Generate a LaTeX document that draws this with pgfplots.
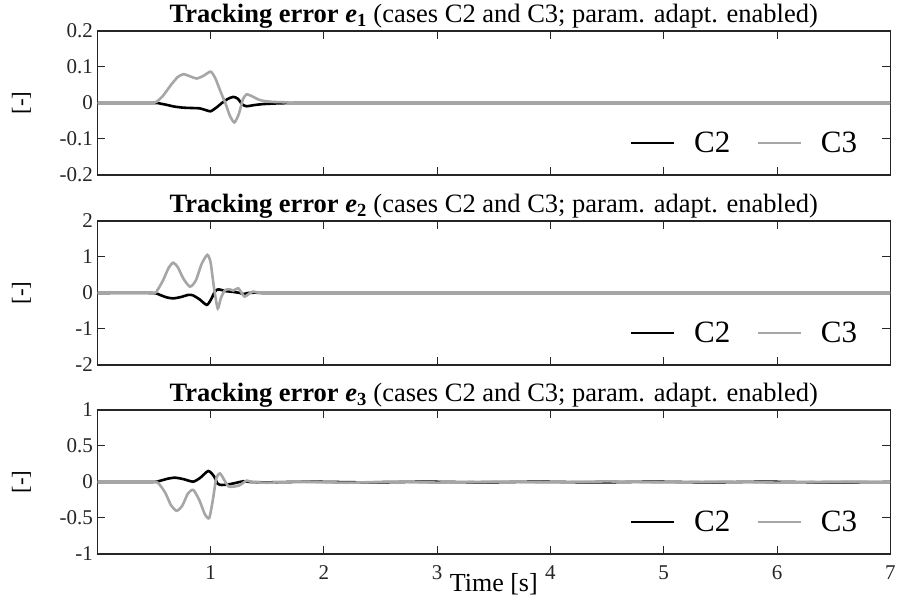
\documentclass[border=0pt]{standalone}
\usepackage{pgfplots}
\pgfplotsset{compat=1.18}
\usepackage{fontspec}
\setmainfont{Liberation Serif}
\definecolor{axgray}{RGB}{38,38,38}
\definecolor{cthree}{RGB}{166,166,166}
\pgfplotsset{
  panel/.style={
    width=793pt, height=144pt, scale only axis,
    xmin=0, xmax=7, xtick={1,...,7},
    tick align=inside, major tick length=8pt,
    axis line style={line width=1.5pt, draw=axgray},
    every tick/.style={line width=1pt, axgray},
    tick label style={font=\fontsize{21}{24}\selectfont, text=axgray},
    /pgf/number format/assume math mode=true,
    xticklabel style={anchor=base, yshift=-26pt},
    yticklabel style={xshift=-1pt},
    ylabel={[-]},
    ylabel style={at={(axis description cs:-0.0958,0.5)}, anchor=center,
      font=\fontsize{23}{26}\selectfont},
    title style={at={(axis description cs:0.5,1)}, anchor=base, yshift=2pt,
      font=\fontsize{26.5}{30}\selectfont},
    legend columns=2,
    legend style={draw=none, fill=none, at={(axis description cs:1,0)},
      anchor=east, xshift=-28pt, yshift=32pt,
      font=\fontsize{31}{34}\selectfont,
      /tikz/every even column/.append style={column sep=24pt}},
    legend image code/.code={\draw[#1] (-3pt,0pt) -- (40pt,0pt);
      \path (57pt,0pt);},
    every axis plot/.append style={line width=2.6pt, smooth, tension=0.4},
  },
  c2/.style={black},
  c3/.style={cthree},
}
\begin{document}
\begin{tikzpicture}
\useasboundingbox (-97.3pt,-47pt) rectangle (799.7pt,554pt);

% panel 1
\begin{axis}[panel, at={(0pt,379pt)},
  ymin=-0.2, ymax=0.2, ytick={-0.2,-0.1,0,0.1,0.2},
  yticklabels={-0.2,-0.1,0,0.1,0.2}, xticklabels={},
  title={\textbf{Tracking error \textit{e}\textsubscript{1}} (cases C2 and C3; param. adapt. enabled)}]
\addplot[c2] coordinates {(0,0)(0.5,0)(0.56,-0.002)(0.61,-0.005)(0.68,-0.01)(0.76,-0.013)(0.84,-0.014)(0.906,-0.015)(0.96,-0.02)(1.0,-0.023)(1.05,-0.013)(1.1,0.0)(1.15,0.011)(1.2,0.017)(1.24,0.012)(1.28,-0.004)(1.318,-0.009)(1.38,-0.006)(1.465,-0.003)(1.6,-0.001)(1.8,0)(2.5,0)(3.5,0)(4.5,0)(5.5,0)(7,0)};
\addlegendentry{C2}
\addplot[c3] coordinates {(0,0)(0.45,0)(0.52,0.003)(0.58,0.02)(0.65,0.05)(0.71,0.072)(0.76,0.080)(0.82,0.074)(0.877,0.068)(0.94,0.076)(1.0,0.087)(1.04,0.07)(1.09,0.03)(1.13,0.0)(1.17,-0.035)(1.21,-0.054)(1.25,-0.03)(1.285,0.01)(1.318,0.024)(1.37,0.018)(1.42,0.01)(1.465,0.006)(1.55,0.003)(1.65,0.002)(1.8,0)(2.5,0)(3.5,0)(4.5,0)(5.5,0)(7,0)};
\addlegendentry{C3}
\end{axis}

% panel 2
\begin{axis}[panel, at={(0pt,189pt)},
  ymin=-2, ymax=2, ytick={-2,-1,0,1,2},
  yticklabels={-2,-1,0,1,2}, xticklabels={},
  title={\textbf{Tracking error \textit{e}\textsubscript{2}} (cases C2 and C3; param. adapt. enabled)}]
\addplot[c2] coordinates {(0,0)(0.48,0)(0.55,-0.05)(0.61,-0.12)(0.67,-0.15)(0.74,-0.11)(0.80,-0.055)(0.84,-0.06)(0.90,-0.17)(0.965,-0.33)(1.0,-0.2)(1.04,0.05)(1.068,0.10)(1.10,0.08)(1.14,0.05)(1.2,0.03)(1.26,0.0)(1.29,-0.03)(1.33,0.0)(1.4,0.01)(1.5,0)(2.5,0)(3.5,0)(4.5,0)(5.5,0)(7,0)};
\addlegendentry{C2}
\addplot[c3] coordinates {(0,0)(0.48,0)(0.53,0.08)(0.58,0.35)(0.63,0.7)(0.67,0.84)(0.71,0.72)(0.76,0.40)(0.818,0.175)(0.87,0.35)(0.92,0.8)(0.971,1.06)(1.0,0.85)(1.03,0.15)(1.063,-0.43)(1.09,-0.15)(1.127,0.08)(1.17,0.1)(1.2,0.07)(1.245,0.13)(1.27,0.02)(1.30,-0.1)(1.34,-0.02)(1.377,0.04)(1.43,0.0)(1.5,0.01)(1.6,0)(2.5,0)(3.5,0)(4.5,0)(5.5,0)(7,0)};
\addlegendentry{C3}
\end{axis}

% panel 3
\begin{axis}[panel, at={(0pt,0pt)},
  ymin=-1, ymax=1, ytick={-1,-0.5,0,0.5,1},
  yticklabels={-1,-0.5,0,0.5,1}, xticklabels={1,2,3,4,5,6,7},
  xlabel={Time [s]},
  xlabel style={at={(axis description cs:0.5,0)}, anchor=base, yshift=-38pt,
    font=\fontsize{26}{30}\selectfont},
  title={\textbf{Tracking error \textit{e}\textsubscript{3}} (cases C2 and C3; param. adapt. enabled)}]
\addplot[c2] coordinates {(0,0)(0.48,0)(0.55,0.015)(0.62,0.045)(0.686,0.06)(0.76,0.04)(0.847,0.005)(0.91,0.06)(0.98,0.153)(1.03,0.08)(1.06,-0.02)(1.083,-0.04)(1.12,-0.04)(1.17,-0.03)(1.23,-0.01)(1.29,0.01)(1.35,0.0)(1.5,-0.005)(1.9,0.004)(2.4,-0.006)(2.9,0.004)(3.4,-0.005)(3.9,0.004)(4.4,-0.006)(4.9,0.004)(5.4,-0.005)(5.9,0.004)(6.4,-0.005)(7,0)};
\addlegendentry{C2}
\addplot[c3] coordinates {(0,0)(0.48,0)(0.54,-0.02)(0.6,-0.15)(0.65,-0.32)(0.70,-0.40)(0.75,-0.33)(0.80,-0.16)(0.847,-0.11)(0.90,-0.25)(0.95,-0.45)(0.988,-0.50)(1.02,-0.25)(1.05,0.05)(1.083,0.12)(1.12,0.03)(1.157,-0.06)(1.2,-0.065)(1.25,-0.05)(1.29,-0.01)(1.32,0.02)(1.37,0.0)(1.5,-0.01)(1.8,0.005)(2.2,-0.01)(2.6,0.005)(3.0,-0.008)(3.5,0.005)(4.0,-0.005)(4.5,0.008)(5.0,-0.005)(5.5,0.005)(6.0,-0.008)(6.5,0.005)(7,0)};
\addlegendentry{C3}
\end{axis}
\end{tikzpicture}
\end{document}
